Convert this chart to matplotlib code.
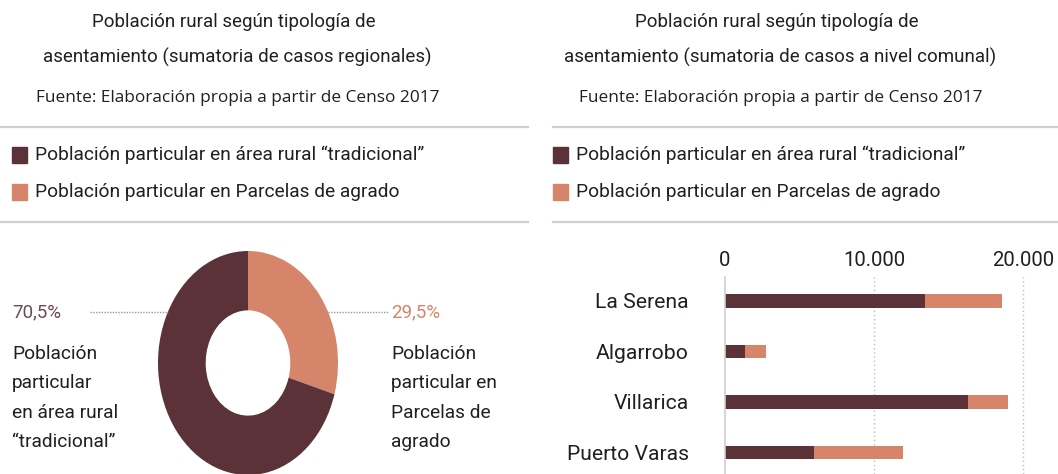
import matplotlib
matplotlib.use("Agg")
import matplotlib.pyplot as plt

# datos
sectores = ["Parcelas de agrado", "Área rural tradicional"]
porcentajes = [29.5, 70.5]

comunas = ["La Serena", "Algarrobo", "Villarica", "Puerto Varas"]
rural_tradicional = [13400, 1350, 16300, 6000]
parcelas_agrado = [5200, 1400, 2700, 5950]

ticks_x = [0, 10000, 20000]
ticks_lbl = ["0", "10.000", "20.000"]

OSCURO = "#5a3238"
CLARO = "#d6846a"
TEXTO = "#231f20"
GRIS = "#cfcfcf"

plt.rcParams["font.family"] = ["Roboto", "DejaVu Sans"]

W, H = 1058, 474
fig = plt.figure(figsize=(W / 100, H / 100), dpi=100)


def px(x, y):
    return x / W, 1 - y / H


def texto(x, y, s, **kw):
    kw.setdefault("color", TEXTO)
    kw.setdefault("va", "center")
    fig.text(*px(x, y), s, **kw)


def linea(x0, x1, y, **kw):
    fig.add_artist(plt.Line2D([x0 / W, x1 / W], [1 - y / H, 1 - y / H], **kw))


# ---- encabezados de ambos paneles
for cx, sub, x0, x1, xl in [
    (237, "asentamiento (sumatoria de casos regionales)", 0, 528, 12),
    (780, "asentamiento (sumatoria de casos a nivel comunal)", 553, 1058, 553),
]:
    texto(cx - 3, 22, "Población rural según tipología de", ha="center", fontsize=13.5)
    texto(cx, 57, sub, ha="center", fontsize=13.5)
    texto(cx + 1, 98, "Fuente: Elaboración propia a partir de Censo 2017", ha="center",
          fontsize=12.4, family=["Open Sans", "DejaVu Sans"])
    linea(x0, x1, 127, color=GRIS, lw=1.6)
    linea(x0, x1, 222, color=GRIS, lw=1.6)
    for yy, col, lbl in [(155, OSCURO, "Población particular en área rural “tradicional”"),
                         (192, CLARO, "Población particular en Parcelas de agrado")]:
        fig.patches.append(plt.Rectangle(px(xl, yy + 8), 15 / W, 16 / H, color=col,
                                         transform=fig.transFigure, figure=fig))
        texto(xl + 23, yy, lbl, fontsize=13.8)

# ---- dona
ax1 = fig.add_axes([158 / W, (H - 475) / H, 180 / W, 224 / H])
ax1.pie(porcentajes, colors=[CLARO, OSCURO], startangle=90, counterclock=False,
        wedgeprops=dict(width=0.53, edgecolor="none"), radius=1)
ax1.set_aspect("auto")
ax1.set_xlim(-1, 1)
ax1.set_ylim(-1, 1)
ax1.axis("off")

linea(90, 168, 312, color="#9a9a9a", lw=1, ls=(0, (1, 1)))
linea(328, 388, 312, color="#9a9a9a", lw=1, ls=(0, (1, 1)))
texto(12, 312, "70,5%", fontsize=13.5, color="#6e4b50")
texto(391, 312, "29,5%", fontsize=13.5, color=CLARO)
texto(12, 398, "Población\nparticular\nen área rural\n“tradicional”", fontsize=13.8,
      linespacing=1.82)
texto(391, 398, "Población\nparticular en\nParcelas de\nagrado", fontsize=13.8,
      linespacing=1.82)

# ---- barras
ax2 = fig.add_axes([725 / W, 0, (W - 725) / W, 197 / H])
pos = range(len(comunas))
ax2.barh(pos, rural_tradicional, height=0.26, color=OSCURO)
ax2.barh(pos, parcelas_agrado, left=rural_tradicional, height=0.26, color=CLARO)
ax2.set_xlim(0, 22350)
ax2.set_ylim(3.426, -0.475)
ax2.set_yticks(list(pos))
ax2.set_yticklabels(comunas, fontsize=15.2, color=TEXTO)
ax2.xaxis.tick_top()
ax2.set_xticks(ticks_x)
ax2.set_xticklabels(ticks_lbl, fontsize=14.7, color=TEXTO)
ax2.tick_params(length=0)
ax2.tick_params(axis="y", pad=26)
ax2.tick_params(axis="x", pad=5)
for s in ["top", "right", "bottom"]:
    ax2.spines[s].set_visible(False)
ax2.spines["left"].set_color("#cfcfcf")
ax2.spines["left"].set_linewidth(1.2)
for t in ticks_x[1:]:
    ax2.axvline(t, color="#bdbdbd", lw=1, ls=(0, (1, 2)), zorder=0)
ax2.set_facecolor("none")

fig.savefig("out.png", dpi=100)
